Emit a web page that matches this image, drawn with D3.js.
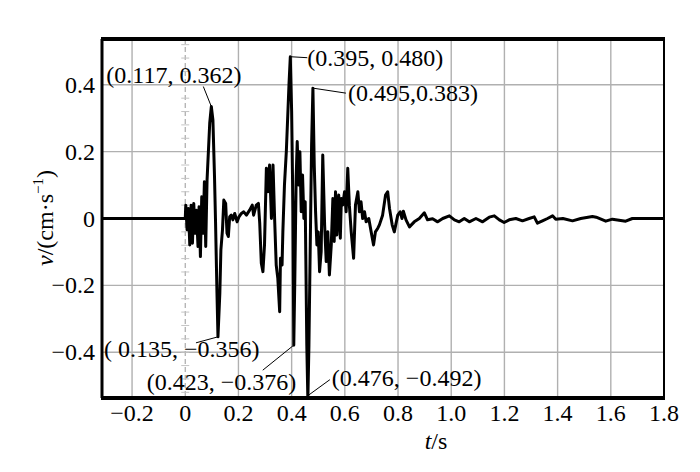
<!DOCTYPE html>
<html><head><meta charset="utf-8">
<script src="https://cdn.jsdelivr.net/npm/d3@7"></script>
<style>
body{margin:0;background:#fff}
svg{display:block}
text{font-family:"Liberation Serif","Times New Roman",serif;fill:#000}
</style>
</head><body>
<svg id="chart" width="700" height="472"></svg>
<script>
// ---- data ----
const timeS = [-0.313,0.000,0.002,0.007,0.012,0.017,0.022,0.027,0.032,0.037,0.042,0.048,0.052,0.057,0.062,0.067,0.072,0.077,0.082,0.087,0.092,0.098,0.104,0.110,0.114,0.119,0.123,0.130,0.134,0.140,0.145,0.152,0.157,0.162,0.167,0.173,0.179,0.186,0.195,0.202,0.211,0.220,0.230,0.242,0.252,0.257,0.267,0.275,0.280,0.286,0.292,0.298,0.305,0.311,0.317,0.324,0.330,0.336,0.342,0.348,0.355,0.358,0.364,0.367,0.373,0.380,0.386,0.390,0.395,0.400,0.405,0.408,0.412,0.417,0.421,0.426,0.431,0.436,0.441,0.446,0.451,0.457,0.461,0.465,0.470,0.475,0.480,0.485,0.490,0.495,0.500,0.505,0.511,0.517,0.524,0.530,0.536,0.542,0.549,0.555,0.560,0.565,0.570,0.577,0.583,0.587,0.592,0.599,0.605,0.611,0.617,0.624,0.633,0.640,0.649,0.655,0.661,0.667,0.674,0.680,0.690,0.699,0.708,0.715,0.724,0.730,0.742,0.753,0.761,0.768,0.778,0.786,0.799,0.808,0.815,0.820,0.830,0.843,0.861,0.880,0.899,0.911,0.930,0.949,0.968,0.993,1.012,1.030,1.049,1.068,1.093,1.118,1.143,1.162,1.181,1.199,1.218,1.243,1.268,1.293,1.312,1.324,1.343,1.362,1.381,1.393,1.420,1.456,1.487,1.531,1.545,1.581,1.606,1.656,1.681,1.800];
const velocity = [0,0,0.040,-0.034,0.030,-0.079,0.040,-0.074,0.045,-0.044,0.025,-0.084,0.035,-0.114,0.065,-0.044,0.110,-0.084,0.115,0.200,0.285,0.335,0.295,0.125,-0.014,-0.214,-0.354,-0.224,-0.094,-0.034,0.055,0.045,-0.044,-0.054,0.005,0.010,-0.004,0.015,-0.010,0.005,0.015,0.020,0.010,0.025,0.040,0.010,0.040,0.045,-0.014,-0.134,-0.159,-0.079,0.150,0.080,0.160,0.000,0.160,0.000,-0.139,-0.179,-0.279,-0.119,-0.139,-0.040,0.100,0.200,0.320,0.400,0.484,0.320,0.020,-0.379,-0.179,0.120,0.230,0.100,0.200,0.020,0.130,0.000,0.050,-0.379,-0.540,-0.379,-0.079,0.220,0.390,0.160,0.020,-0.079,-0.040,-0.159,-0.099,0.190,-0.019,-0.129,-0.040,-0.169,-0.079,0.060,-0.069,0.080,-0.049,0.070,-0.059,0.060,0.040,0.080,0.020,0.150,0.040,-0.040,-0.119,0.040,0.080,0.020,0.050,0.000,0.020,-0.010,0.000,-0.040,-0.079,-0.040,-0.029,-0.019,0.010,0.070,0.080,0.030,-0.019,-0.040,0.010,0.020,0.000,0.022,-0.004,-0.025,-0.010,0.000,0.017,-0.004,-0.001,-0.010,0.000,0.008,-0.004,-0.010,0.000,-0.010,0.000,-0.010,0.004,0.008,-0.004,-0.012,-0.004,0.000,-0.007,0.000,0.005,-0.014,-0.007,0.000,0.008,-0.002,0.000,-0.007,0.000,0.006,0.004,-0.008,-0.002,-0.008,0.000,0.000];

const xTicks = [-0.2,0,0.2,0.4,0.6,0.8,1.0,1.2,1.4,1.6,1.8];
const xTickLabels = ["\u22120.2","0","0.2","0.4","0.6","0.8","1.0","1.2","1.4","1.6","1.8"];
const yTicks = [-0.4,-0.2,0,0.2,0.4];
const yTickLabels = ["\u22120.4","\u22120.2","0","0.2","0.4"];

// annotated extrema (label text and the point it refers to, as drawn)
const annLabels = ["(0.117, 0.362)","(0.395, 0.480)","(0.495,0.383)","( 0.135, \u22120.356)","(0.423, \u22120.376)","(0.476, \u22120.492)"];
const annT = [0.098,0.395,0.480,0.123,0.408,0.461];
const annV = [0.335,0.484,0.390,-0.354,-0.379,-0.530];

// ---- layout (pixel offsets of leader ends and label text, relative to the point) ----
const annLayout = [
  {lx:-8, ly:-20, tx:-105, ty:-24},
  {lx:17, ly:1,  tx:17,  ty:9},
  {lx:33, ly:5,  tx:35,  ty:13},
  {lx:-22,ly:6,  tx:-114,ty:20},
  {lx:-31,ly:25, tx:-147,ty:45},
  {lx:22, ly:-16,tx:24,  ty:-10}
];

const svg = d3.select("#chart");
const L = 102, R = 664, T = 39, B = 398;
const x = d3.scaleLinear().domain([-0.313, 1.8]).range([L, R]);
const y = d3.scaleLinear().domain([-0.537, 0.537]).range([B, T]);

// grid
const grid = svg.append("g");
grid.selectAll("line.v").data(xTicks.filter(d => d !== 0 && d < 1.79)).enter().append("line")
  .attr("x1", d => x(d)).attr("x2", d => x(d)).attr("y1", T).attr("y2", B)
  .attr("stroke", "#b0b0b0").attr("stroke-width", 1.4);
grid.selectAll("line.h").data(yTicks.filter(d => d !== 0)).enter().append("line")
  .attr("x1", L).attr("x2", R).attr("y1", d => y(d)).attr("y2", d => y(d))
  .attr("stroke", "#b0b0b0").attr("stroke-width", 1.4);
// dashed t = 0 line with small ruler marks
grid.append("line").attr("x1", x(0)).attr("x2", x(0)).attr("y1", T).attr("y2", B)
  .attr("stroke", "#aaa").attr("stroke-width", 1.2).attr("stroke-dasharray", "5,3");
grid.selectAll("line.r").data(d3.range(-0.52, 0.53, 0.04)).enter().append("line")
  .attr("x1", x(0) - 4).attr("x2", x(0) + 4).attr("y1", d => y(d)).attr("y2", d => y(d))
  .attr("stroke", "#c4c4c4").attr("stroke-width", 1);

// clip
svg.append("clipPath").attr("id", "clip").append("rect")
  .attr("x", L).attr("y", T).attr("width", R - L).attr("height", B - T);

// waveform
const pts = timeS.map((t, i) => [t, velocity[i]]);
svg.append("path").datum(pts)
  .attr("clip-path", "url(#clip)")
  .attr("fill", "none").attr("stroke", "#000").attr("stroke-width", 3)
  .attr("stroke-linejoin", "round")
  .attr("d", d3.line().x(d => x(d[0])).y(d => y(d[1])));

// frame
svg.append("line").attr("x1", L - 1).attr("x2", R + 1).attr("y1", T).attr("y2", T).attr("stroke", "#000").attr("stroke-width", 4);
svg.append("line").attr("x1", L - 1).attr("x2", R + 1).attr("y1", B).attr("y2", B).attr("stroke", "#000").attr("stroke-width", 4);
svg.append("line").attr("x1", L).attr("x2", L).attr("y1", T).attr("y2", B).attr("stroke", "#000").attr("stroke-width", 3);
svg.append("line").attr("x1", R).attr("x2", R).attr("y1", T).attr("y2", B).attr("stroke", "#000").attr("stroke-width", 2);

// tick labels
svg.selectAll("text.xt").data(xTicks).enter().append("text")
  .attr("x", d => x(d)).attr("y", 421).attr("text-anchor", "middle")
  .attr("font-size", 24).text((d, i) => xTickLabels[i]);
svg.selectAll("text.yt").data(yTicks).enter().append("text")
  .attr("x", 95).attr("y", d => y(d) + 8).attr("text-anchor", "end")
  .attr("font-size", 24).text((d, i) => yTickLabels[i]);

// axis titles
const xt = svg.append("text").attr("x", 436).attr("y", 449).attr("text-anchor", "middle").attr("font-size", 24);
xt.append("tspan").attr("font-style", "italic").text("t");
xt.append("tspan").text("/s");
const yt = svg.append("text").attr("transform", "translate(53,218) rotate(-90)").attr("text-anchor", "middle").attr("font-size", 24);
yt.append("tspan").attr("font-style", "italic").text("v");
yt.append("tspan").text("/(cm\u00b7s");
yt.append("tspan").attr("font-size", 15).attr("dy", -10).text("\u22121");
yt.append("tspan").attr("dy", 10).text(")");

// annotations
annLabels.forEach((lab, i) => {
  const px = x(annT[i]), py = y(annV[i]), o = annLayout[i];
  svg.append("line").attr("x1", px).attr("y1", py).attr("x2", px + o.lx).attr("y2", py + o.ly)
    .attr("stroke", "#000").attr("stroke-width", 1);
  svg.append("text").attr("x", px + o.tx).attr("y", py + o.ty).attr("font-size", 24).text(lab);
});
</script>
</body></html>
